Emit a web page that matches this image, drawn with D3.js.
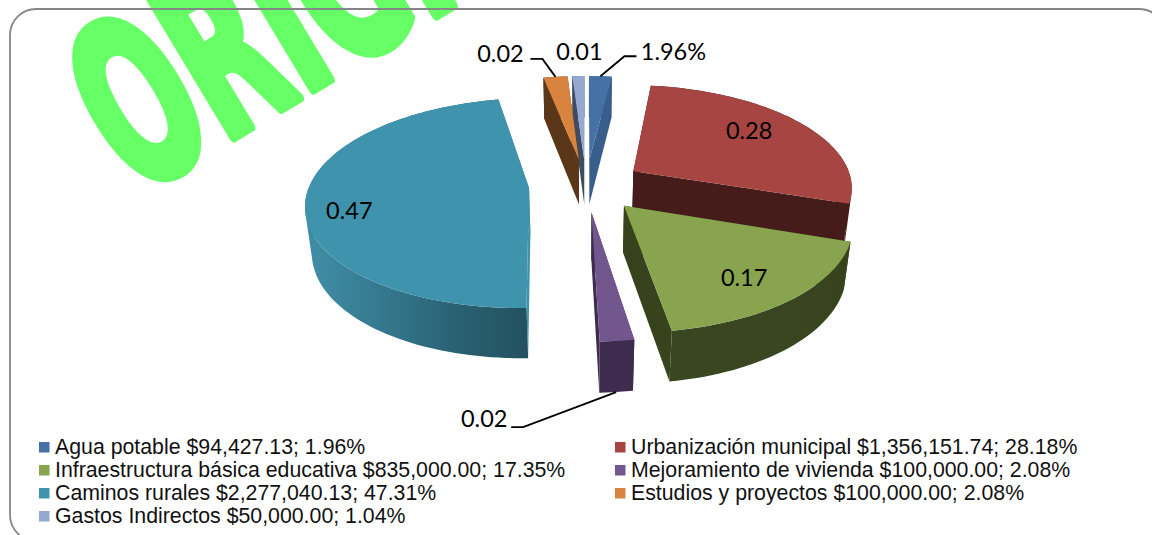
<!DOCTYPE html>
<html>
<head>
<meta charset="utf-8">
<script src="https://cdn.jsdelivr.net/npm/d3@7"></script>
<style>
	html, body { margin: 0; padding: 0; background: #fff; overflow: hidden; }
	svg { display: block; }
	.watermark { font-family: "DejaVu Sans"; font-weight: bold; font-size: 225px; fill: #66ff66; stroke: #66ff66; stroke-width: 11; stroke-linejoin: round; }
	.label { font-family: Lato, "Noto Sans"; font-size: 23.5px; fill: #000; text-anchor: middle; dominant-baseline: central; }
	.legend text { font-family: "Liberation Sans"; font-size: 21.3px; fill: #111; dominant-baseline: central; }
	.leader { fill: none; stroke: #000; stroke-width: 1.8; }
</style>
</head>
<body>
<div class="container"></div>
<script>
const WIDTH = 1152
	, HEIGHT = 535
	// pie geometry, fitted to the picture
	, CX = 586
	, CY = 185
	, RX = 219.5
	, RY = 102
	, DEPTH = 47
	, PERSPECTIVE = 7
	, SHRINK = 0.17
	, EXPLODE = 0.26;

const names = ["Agua potable", "Urbanización municipal", "Infraestructura básica educativa", "Mejoramiento de vivienda", "Caminos rurales", "Estudios y proyectos", "Gastos Indirectos"];
const amounts = [94427.13, 1356151.74, 835000, 100000, 2277040.13, 100000, 50000];
const topColors = ["#4571a6", "#a74543", "#89a44f", "#72578f", "#4093ac", "#d9843e", "#94a8d0"];
const wallColors = ["#385f8c", "#451c1a", "#38431d", "#3e2c4e", "#4093ac", "#5a3718", "#3f4b60"];

// where each value label goes, relative to its slice: inside (fraction of radius) or outside (leader)
const insideRadius = [null, 0.62, 0.85, null, 0.82, null, null];
const labelOffset = [[73, -25], [10, -10], [-21, -6], [-132, 26], [3, 13], [-55, -24], [1, -25]];
const leaderElbow = [[24, -20], null, null, [-93, 35], null, [-13, -18], null];
const leaderEnd = [[36, -20], null, null, [-105, 35], null, [-25, -18], null];

var total = d3.sum(amounts);
var fmtMoney = d3.format("$,.2f"), fmtPct = d3.format(".2%"), fmtShare = d3.format(".2f");

var project = function (x, y, z) {
	var s = PERSPECTIVE / (PERSPECTIVE + y + SHRINK * z);
	return [CX + RX * x * s, CY - RY * y * s + DEPTH * z * s];
};

var toPath = d3.line();

var arcAngles = function (a0, a1) {
	var n = Math.max(2, Math.ceil((a1 - a0) / 0.03));
	return d3.range(n + 1).map(function (i) { return a0 + (a1 - a0) * i / n; });
};

var svg = d3.select(".container").append("svg")
	.attr("width", WIDTH)
	.attr("height", HEIGHT);

svg.append("text")
	.attr("class", "watermark")
	.attr("transform", "translate(135,196) rotate(-31) scale(0.535,1)")
	.text("ORIGINAL");

svg.append("rect")
	.attr("x", 10)
	.attr("y", 9)
	.attr("width", 1155)
	.attr("height", 532)
	.attr("rx", 26)
	.attr("fill", "none")
	.attr("stroke", "#868686")
	.attr("stroke-width", 1.8);

var slices = d3.pie().sort(null).value(function (d) { return d; })(amounts);

slices.forEach(function (d) {
	var mid = (d.startAngle + d.endAngle) / 2;
	d.mid = mid;
	d.ox = EXPLODE * Math.sin(mid);
	d.oy = EXPLODE * Math.cos(mid);
	d.rim = function (a, z) { return project(d.ox + Math.sin(a), d.oy + Math.cos(a), z); };
	d.apex = function (z) { return project(d.ox, d.oy, z); };
});

var defs = svg.append("defs");

var addGradient = function (id, d, stops) {
	var g = defs.append("linearGradient")
		.attr("id", id)
		.attr("gradientUnits", "userSpaceOnUse")
		.attr("x1", d.rim(d.mid, 1)[0])
		.attr("x2", d.rim(d.startAngle, 1)[0])
		.attr("y1", 0)
		.attr("y2", 0);
	stops.forEach(function (c, i) {
		g.append("stop").attr("offset", i / (stops.length - 1)).attr("stop-color", c);
	});
};
addGradient("wallCaminos", slices[4], ["#3f8da5", "#35788e", "#2a6173", "#225160"]);
addGradient("wallInfra", slices[2], ["#3a4620", "#38431d"]);

var outerFill = function (d) {
	if (d.index === 4) return "url(#wallCaminos)";
	if (d.index === 2) return "url(#wallInfra)";
	return wallColors[d.index];
};

// far slices first so the near ones paint over them
var order = slices.slice().sort(function (a, b) { return b.oy - a.oy; });

var pie = svg.append("g").attr("class", "pie");

order.forEach(function (d) {
	var g = pie.append("g");
	var angles = arcAngles(d.startAngle, d.endAngle);
	var topRim = angles.map(function (a) { return d.rim(a, 0); });
	var startWall = [d.apex(0), d.rim(d.startAngle, 0), d.rim(d.startAngle, 1), d.apex(1)];
	var endWall = [d.apex(0), d.rim(d.endAngle, 0), d.rim(d.endAngle, 1), d.apex(1)];

	[startWall, endWall].forEach(function (w) {
		g.append("path").attr("d", toPath(w) + "Z").attr("fill", wallColors[d.index]);
	});
	// rim wall: quads in one path, all wound the same way, so no seams and the sides stay filled
	var wall = d3.pairs(angles).map(function (p) {
		var quad = [d.rim(p[0], 0), d.rim(p[1], 0), d.rim(p[1], 1), d.rim(p[0], 1)];
		return toPath(d3.polygonArea(quad) < 0 ? quad.reverse() : quad) + "Z";
	}).join("");
	g.append("path")
		.attr("d", wall)
		.attr("fill", outerFill(d));
	g.append("path")
		.attr("d", toPath([d.apex(0)].concat(topRim)) + "Z")
		.attr("fill", topColors[d.index]);
});

var labelText = function (d) {
	var share = d.value / total;
	return d.index === 0 ? fmtPct(share) : fmtShare(share);
};

slices.forEach(function (d) {
	var pos, off = labelOffset[d.index];
	if (insideRadius[d.index] !== null) {
		var f = insideRadius[d.index];
		pos = project(d.ox + f * Math.sin(d.mid), d.oy + f * Math.cos(d.mid), 0);
	} else {
		// the front slice hangs its leader from the bottom edge, the back ones from the top
		pos = d.rim(d.mid, d.index === 3 ? 1 : 0);
		if (leaderElbow[d.index]) {
			svg.append("path")
				.attr("class", "leader")
				.attr("d", toPath([pos,
					[pos[0] + leaderElbow[d.index][0], pos[1] + leaderElbow[d.index][1]],
					[pos[0] + leaderEnd[d.index][0], pos[1] + leaderEnd[d.index][1]]]));
		}
	}
	svg.append("text")
		.attr("class", "label")
		.attr("x", pos[0] + off[0])
		.attr("y", pos[1] + off[1])
		.text(labelText(d));
});

var legendX = d3.scaleOrdinal().domain([0, 1]).range([39, 615]);
var legendY = d3.scaleLinear().domain([0, 3]).range([447, 516]);

var item = svg.append("g").attr("class", "legend")
	.selectAll("g").data(slices).enter().append("g")
	.attr("transform", function (d) {
		return "translate(" + legendX(d.index % 2) + "," + legendY(Math.floor(d.index / 2)) + ")";
	});

item.append("rect")
	.attr("y", -5)
	.attr("width", 10.5)
	.attr("height", 10.5)
	.attr("fill", function (d) { return topColors[d.index]; });

item.append("text")
	.attr("x", 16)
	.text(function (d) {
		return names[d.index] + " " + fmtMoney(d.value) + "; " + fmtPct(d.value / total);
	});
</script>
</body>
</html>
